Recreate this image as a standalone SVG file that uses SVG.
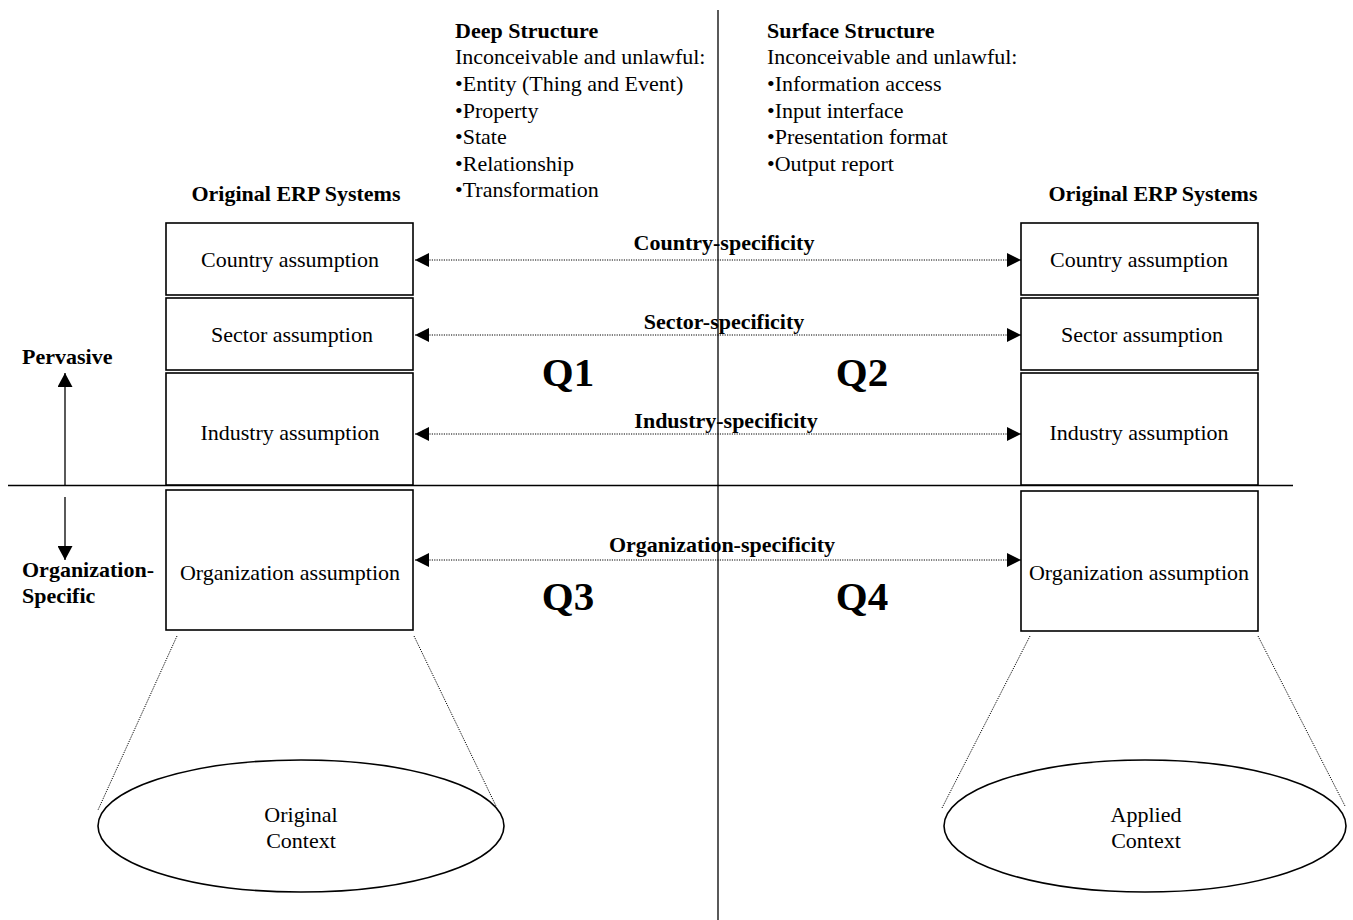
<svg xmlns="http://www.w3.org/2000/svg" width="1353" height="920" viewBox="0 0 1353 920">
<style>
text{font-family:"Liberation Serif","Times New Roman",serif;fill:#000}
.t{font-size:22px}
.b{font-size:22px;font-weight:bold}
.q{font-size:41px;font-weight:bold}
.m{text-anchor:middle}
.box{fill:#fff;stroke:#000;stroke-width:1.6}
.dot{stroke:#000;stroke-width:1;stroke-dasharray:1.2 1.2;fill:none}
.solid{stroke:#000;stroke-width:1.3;fill:none}
.ell{fill:#fff;stroke:#000;stroke-width:1.6}
</style>
<defs>
<marker id="ah" viewBox="0 0 14 14" refX="14" refY="7" markerWidth="14" markerHeight="14" markerUnits="userSpaceOnUse" orient="auto-start-reverse">
<path d="M0,0 L14,7 L0,14 Z" fill="#000"/>
</marker>
<marker id="ah2" viewBox="0 0 14 15" refX="14" refY="7.5" markerWidth="14" markerHeight="15" markerUnits="userSpaceOnUse" orient="auto-start-reverse">
<path d="M0,0 L14,7.5 L0,15 Z" fill="#000"/>
</marker>
</defs>

<g id="axes">
<line class="solid" x1="718" y1="10" x2="718" y2="920"/>
<line class="solid" x1="8" y1="485.5" x2="1293" y2="485.5"/>
</g>

<g id="deep-structure">
<text class="b" x="455" y="38">Deep Structure</text>
<text class="t" x="455" y="64">Inconceivable and unlawful:</text>
<text class="t" x="455" y="91">•Entity (Thing and Event)</text>
<text class="t" x="455" y="118">•Property</text>
<text class="t" x="455" y="144">•State</text>
<text class="t" x="455" y="171">•Relationship</text>
<text class="t" x="455" y="197">•Transformation</text>
</g>
<g id="surface-structure">
<text class="b" x="767" y="38">Surface Structure</text>
<text class="t" x="767" y="64">Inconceivable and unlawful:</text>
<text class="t" x="767" y="91">•Information access</text>
<text class="t" x="767" y="118">•Input interface</text>
<text class="t" x="767" y="144">•Presentation format</text>
<text class="t" x="767" y="171">•Output report</text>
</g>

<g id="left-title"><text class="b m" x="296" y="201">Original ERP Systems</text></g>
<g id="right-title"><text class="b m" x="1153" y="201">Original ERP Systems</text></g>

<g id="left-country"><rect class="box" x="166" y="223" width="247" height="72"/><text class="t m" x="290" y="267">Country assumption</text></g>
<g id="left-sector"><rect class="box" x="166" y="298" width="247" height="72"/><text class="t m" x="292" y="342">Sector assumption</text></g>
<g id="left-industry"><rect class="box" x="166" y="373" width="247" height="112"/><text class="t m" x="290" y="440">Industry assumption</text></g>
<g id="left-organization"><rect class="box" x="166" y="490" width="247" height="140"/><text class="t m" x="290" y="580">Organization assumption</text></g>

<g id="right-country"><rect class="box" x="1021" y="223" width="237" height="72"/><text class="t m" x="1139" y="267">Country assumption</text></g>
<g id="right-sector"><rect class="box" x="1021" y="298" width="237" height="72"/><text class="t m" x="1142" y="342">Sector assumption</text></g>
<g id="right-industry"><rect class="box" x="1021" y="373" width="237" height="112"/><text class="t m" x="1139" y="440">Industry assumption</text></g>
<g id="right-organization"><rect class="box" x="1021" y="491" width="237" height="140"/><text class="t m" x="1139" y="580">Organization assumption</text></g>

<g id="quadrants">
<text class="q m" x="568" y="386">Q1</text>
<text class="q m" x="862" y="386">Q2</text>
<text class="q m" x="568" y="610">Q3</text>
<text class="q m" x="862" y="610">Q4</text>
</g>

<g id="left-labels">
<text class="b" x="22" y="364">Pervasive</text>
<text class="b" x="22" y="577">Organization-</text>
<text class="b" x="22" y="603">Specific</text>
</g>

<g id="original-context"><ellipse class="ell" cx="301" cy="826" rx="203" ry="66"/><text class="t m" x="301" y="822">Original</text><text class="t m" x="301" y="848">Context</text></g>
<g id="applied-context"><ellipse class="ell" cx="1145" cy="826" rx="201" ry="66"/><text class="t m" x="1146" y="822">Applied</text><text class="t m" x="1146" y="848">Context</text></g>

<g id="connectors">
<line class="dot" x1="415" y1="260" x2="1021" y2="260" marker-start="url(#ah)" marker-end="url(#ah)"/>
<line class="dot" x1="415" y1="335" x2="1021" y2="335" marker-start="url(#ah)" marker-end="url(#ah)"/>
<line class="dot" x1="415" y1="434" x2="1021" y2="434" marker-start="url(#ah)" marker-end="url(#ah)"/>
<line class="dot" x1="415" y1="560" x2="1021" y2="560" marker-start="url(#ah)" marker-end="url(#ah)"/>
<text class="b m" x="724" y="250">Country-specificity</text>
<text class="b m" x="724" y="329">Sector-specificity</text>
<text class="b m" x="726" y="428">Industry-specificity</text>
<text class="b m" x="722" y="552">Organization-specificity</text>
<line class="solid" x1="65" y1="485" x2="65" y2="373" marker-end="url(#ah2)" stroke-width="1.6"/>
<line class="solid" x1="65" y1="497" x2="65" y2="560" marker-end="url(#ah2)" stroke-width="1.6"/>
<line class="dot" x1="177" y1="636" x2="98" y2="810"/>
<line class="dot" x1="414" y1="636" x2="496" y2="806"/>
<line class="dot" x1="1030" y1="636" x2="942" y2="808"/>
<line class="dot" x1="1258" y1="636" x2="1345" y2="806"/>
</g>
</svg>
